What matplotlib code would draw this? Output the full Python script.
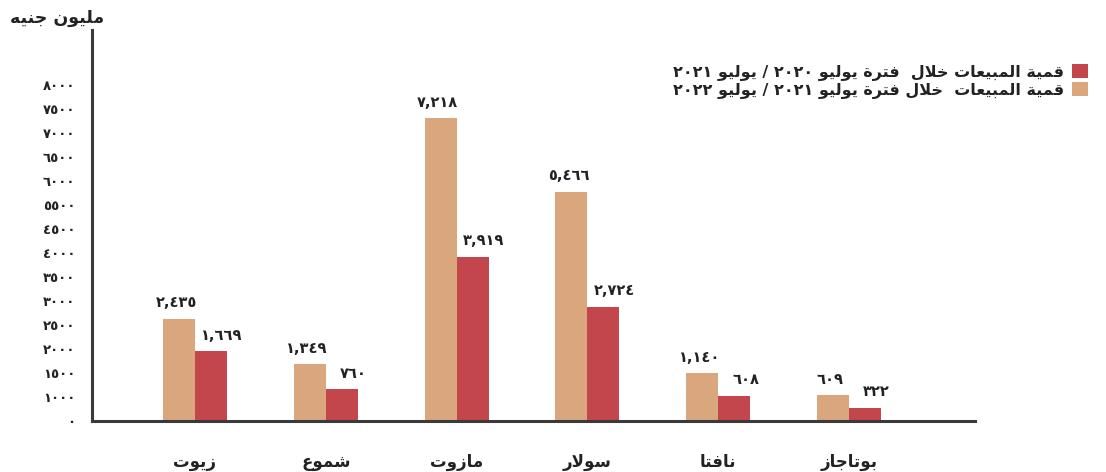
import matplotlib
matplotlib.use('Agg')
import matplotlib.pyplot as plt
import numpy as np

plt.rcParams['font.family'] = ['DejaVu Sans']

# البيانات
categories = ['زيوت', 'شموع', 'مازوت', 'سولار', 'نافتا', 'بوتاجاز']
sales_2122 = [2435, 1349, 7218, 5466, 1140, 609]   # يوليو ٢٠٢١ / يوليو ٢٠٢٢
sales_2021 = [1669, 760, 3919, 2724, 608, 322]     # يوليو ٢٠٢٠ / يوليو ٢٠٢١
ytick_labels = ['٠', '١٠٠٠', '١٥٠٠', '٢٠٠٠', '٢٥٠٠', '٣٠٠٠', '٣٥٠٠', '٤٠٠٠',
                '٤٥٠٠', '٥٥٠٠', '٦٠٠٠', '٦٥٠٠', '٧٠٠٠', '٧٥٠٠', '٨٠٠٠']
legend_labels = ['قمية المبيعات خلال  فترة يوليو ٢٠٢٠ / يوليو ٢٠٢١',
                 'قمية المبيعات  خلال فترة يوليو ٢٠٢١ / يوليو ٢٠٢٢']
unit_label = 'مليون جنيه'

# تشكيل الحروف العربية (matplotlib لا يقوم بذلك)
# isolated, final, initial, medial
FORMS = {
    'ا': (0xFE8D, 0xFE8E, None, None),
    'ب': (0xFE8F, 0xFE90, 0xFE91, 0xFE92),
    'ة': (0xFE93, 0xFE94, None, None),
    'ت': (0xFE95, 0xFE96, 0xFE97, 0xFE98),
    'ج': (0xFE9D, 0xFE9E, 0xFE9F, 0xFEA0),
    'خ': (0xFEA5, 0xFEA6, 0xFEA7, 0xFEA8),
    'ر': (0xFEAD, 0xFEAE, None, None),
    'ز': (0xFEAF, 0xFEB0, None, None),
    'س': (0xFEB1, 0xFEB2, 0xFEB3, 0xFEB4),
    'ش': (0xFEB5, 0xFEB6, 0xFEB7, 0xFEB8),
    'ع': (0xFEC9, 0xFECA, 0xFECB, 0xFECC),
    'ف': (0xFED1, 0xFED2, 0xFED3, 0xFED4),
    'ق': (0xFED5, 0xFED6, 0xFED7, 0xFED8),
    'ل': (0xFEDD, 0xFEDE, 0xFEDF, 0xFEE0),
    'م': (0xFEE1, 0xFEE2, 0xFEE3, 0xFEE4),
    'ن': (0xFEE5, 0xFEE6, 0xFEE7, 0xFEE8),
    'ه': (0xFEE9, 0xFEEA, 0xFEEB, 0xFEEC),
    'و': (0xFEED, 0xFEEE, None, None),
    'ي': (0xFEF1, 0xFEF2, 0xFEF3, 0xFEF4),
}


def shape_word(w):
    out = []
    i = 0
    prev_joins = False
    while i < len(w):
        c = w[i]
        if c not in FORMS:
            out.append(c)
            prev_joins = False
            i += 1
            continue
        if c == 'ل' and i + 1 < len(w) and w[i + 1] == 'ا':
            out.append(chr(0xFEFC if prev_joins else 0xFEFB))
            prev_joins = False
            i += 2
            continue
        f = FORMS[c]
        nxt = w[i + 1] if i + 1 < len(w) else None
        joins_next = f[2] is not None and nxt in FORMS
        if prev_joins and joins_next:
            g = f[3]
        elif prev_joins:
            g = f[1]
        elif joins_next:
            g = f[2]
        else:
            g = f[0]
        out.append(chr(g))
        prev_joins = f[2] is not None
        i += 1
    return ''.join(out)


def ar(text):
    words = text.split(' ')
    vis = []
    for w in words:
        if any(ch in FORMS for ch in w):
            vis.append(shape_word(w)[::-1])
        else:
            vis.append(w)
    return ' '.join(vis[::-1])


def ar_num(v):
    s = f'{v:,}'
    return s.translate(str.maketrans('0123456789', '٠١٢٣٤٥٦٧٨٩'))


light = '#d9a67e'
dark = '#c2464c'
axis_col = '#3a3a3a'
txt = '#222222'

fig = plt.figure(figsize=(11.06, 4.72), dpi=100)
ax = fig.add_axes([0.0832, 0.108, 0.7984, 0.828])

x = np.arange(len(categories))
w = 0.245
ax.bar(x - w / 2, sales_2122, w, color=light, label=ar(legend_labels[1]))
ax.bar(x + w / 2, sales_2021, w, color=dark, label=ar(legend_labels[0]))

for i in range(len(categories)):
    ax.annotate(ar_num(sales_2122[i]), (x[i] - w / 2, sales_2122[i]),
                xytext=(-2, 6), textcoords='offset points', ha='center',
                va='bottom', fontsize=10.5, fontweight='bold', color=txt)
    ax.annotate(ar_num(sales_2021[i]), (x[i] + w / 2, sales_2021[i]),
                xytext=(8, 6), textcoords='offset points', ha='center',
                va='bottom', fontsize=10.5, fontweight='bold', color=txt)

ax.set_xlim(-0.787, 5.963)
ax.set_ylim(0, 9310)
ax.set_yticks(np.linspace(0, 8000, len(ytick_labels)))
ax.set_yticklabels(ytick_labels, fontsize=9.5, fontweight='bold', color=txt)
ax.set_xticks(x)
ax.set_xticklabels([ar(c) for c in categories], fontsize=12, fontweight='bold',
                   color=txt)
ax.tick_params(axis='y', length=0, pad=12)
ax.tick_params(axis='x', length=0, pad=23)

for s in ['top', 'right']:
    ax.spines[s].set_visible(False)
for s in ['left', 'bottom']:
    ax.spines[s].set_color(axis_col)
    ax.spines[s].set_linewidth(2.2)

fig.text(0.009, 0.962, ar(unit_label), fontsize=12.5, fontweight='bold',
         ha='left', va='center', color=txt)

handles, labels = ax.get_legend_handles_labels()
leg = fig.legend(handles[::-1], labels[::-1], loc='upper right',
                 bbox_to_anchor=(0.997, 0.895), markerfirst=False, frameon=False,
                 prop={'size': 11.5, 'weight': 'bold'}, handlelength=1.0,
                 handleheight=1.0, handletextpad=0.5, labelspacing=0.1)
for t in leg.get_texts():
    t.set_color(txt)

fig.savefig('out.png', dpi=100)
